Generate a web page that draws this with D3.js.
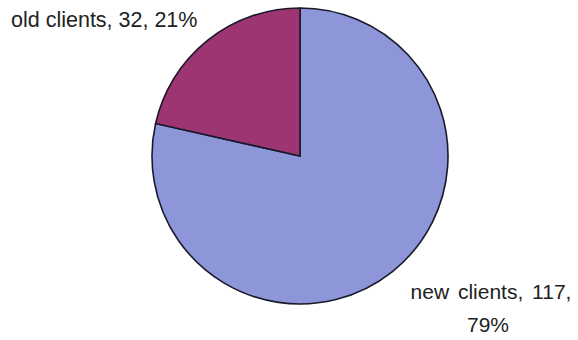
<!DOCTYPE html>
<html><head><meta charset="utf-8">
<script src="https://cdn.jsdelivr.net/npm/d3@7"></script>
<style>body{margin:0;background:#fff}svg{display:block}</style>
</head><body>
<script>
const categories = ["new clients", "old clients"];
const values = [117, 32];
const percents = ["79%", "21%"];
const colors = ["#8e96da", "#9c3572"];

const W = 578, H = 340;
const svg = d3.select("body").append("svg").attr("width", W).attr("height", H);
const cx = 300, cy = 156, r = 148;
const pie = d3.pie().sort(null).value(d => d)(values);
const arc = d3.arc().innerRadius(0).outerRadius(r);
const g = svg.append("g").attr("transform", `translate(${cx},${cy})`);
g.selectAll("path").data(pie).join("path")
  .attr("d", arc)
  .attr("fill", (d, i) => colors[i])
  .attr("stroke", "#1a1a2a")
  .attr("stroke-width", 1.6);

const font = "Arial, 'Liberation Sans', sans-serif";
svg.append("text").attr("x", 11).attr("y", 27)
  .attr("font-family", font).attr("font-size", 21.5).attr("fill", "#222")
  .text(`${categories[1]}, ${values[1]}, ${percents[1]}`);
const t = svg.append("text").attr("font-family", font).attr("font-size", 21)
  .attr("fill", "#222").attr("text-anchor", "middle");
t.append("tspan").attr("x", 491).attr("y", 299).attr("word-spacing", 3)
  .text(`${categories[0]}, ${values[0]},`);
t.append("tspan").attr("x", 488).attr("y", 332).text(percents[0]);
</script>
</body></html>
